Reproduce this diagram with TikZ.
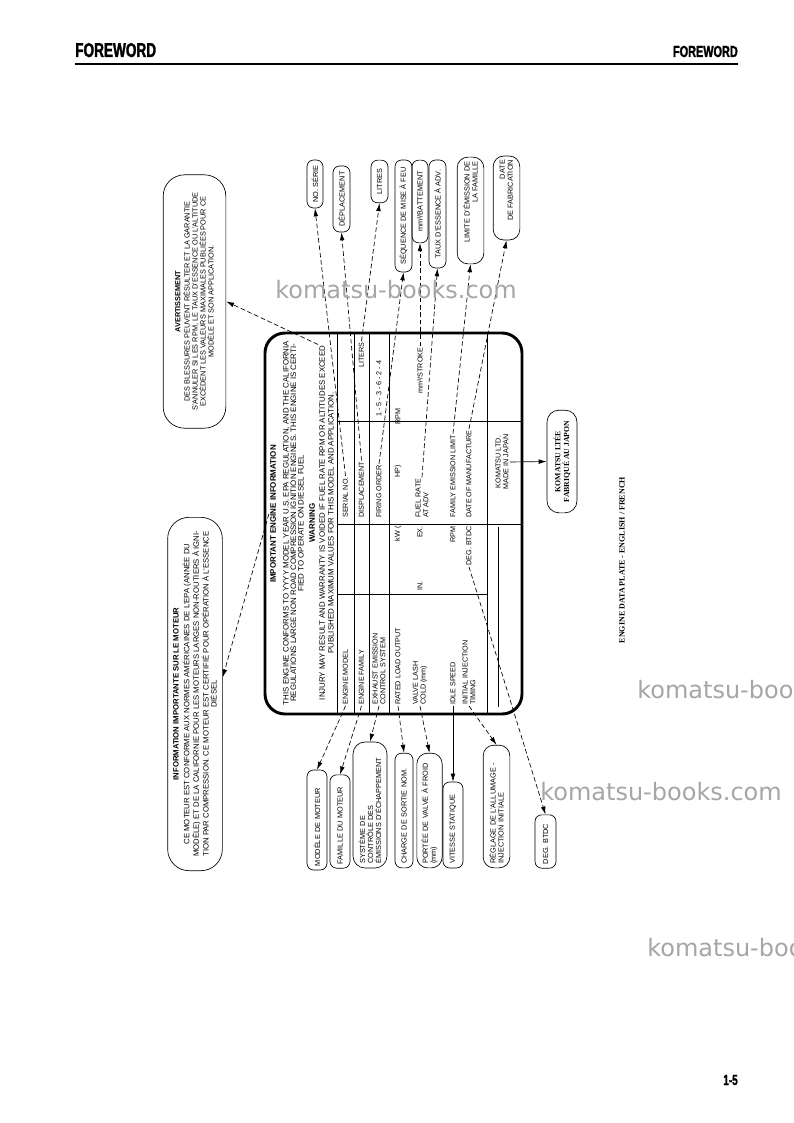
\documentclass[tikz,border=0pt]{standalone}
\usepackage{fontspec}
\setmainfont{Liberation Sans}
\newfontfamily\serifb{Liberation Serif}
\newfontfamily\narrowf[FakeStretch=0.68, FakeBold=1.5]{Liberation Sans Bold}
\newfontfamily\wmf{DejaVu Sans}
\usetikzlibrary{arrows.meta}

\tikzset{
  txt/.style={rotate=90, inner sep=0.8pt, font=\fontsize{5.4}{5.9}\selectfont, align=left},
  bub/.style={draw, rotate=90, line width=0.5pt, rounded corners=5pt, inner sep=1pt, font=\fontsize{5.5}{6}\selectfont, align=center},
  link/.style={line width=0.5pt, dash pattern=on 3.5pt off 2pt, -{Latex[length=6pt,width=3.5pt]}},
  slink/.style={line width=0.5pt, -{Latex[length=6pt,width=3.5pt]}},
  grid/.style={line width=0.5pt},
  wm/.style={text=black!35, font=\wmf\fontsize{18}{18}\selectfont, anchor=west, inner sep=0pt}
}

\begin{document}
\begin{tikzpicture}[x=0.75pt, y=-0.75pt]
\useasboundingbox (0,0) rectangle (793,1123);
\fill[white] (0,0) rectangle (793,1123);

% Encabezado
\node[anchor=base west, inner sep=0pt, font=\narrowf\fontsize{15}{15}\selectfont] (fwL) at (75,57) {FOREWORD};
\node[anchor=base east, inner sep=0pt, font=\narrowf\fontsize{12}{12}\selectfont] (fwR) at (738,57) {FOREWORD};
\draw[line width=2.2pt] (75,64) -- (738,64);
\node[anchor=base east, inner sep=0pt, font=\narrowf\fontsize{11}{11}\selectfont] (pg) at (738,1085) {1-5};

% Placa
\draw[line width=2.2pt, rounded corners=15pt] (265,333) rectangle (522,714);
\foreach \x in {337,354,369,389,487}
  \draw[grid] (\x,334) -- (\x,713);
\draw[grid] (337,594) -- (487,594);
\draw[grid] (337,524) -- (521,524);
\draw[grid] (337,421) -- (521,421);
\draw[grid] (498,527) -- (498,707);

% Texto de la placa
\node[txt, font=\bfseries\fontsize{6}{6}\selectfont] (hd) at (273,514) {IMPORTANT ENGINE INFORMATION};
\node[txt, align=center, font=\fontsize{5.9}{5.6}\selectfont] (tBody) at (293.5,523)
  {THIS ENGINE CONFORMS TO YYYY MODEL YEAR U.S. EPA REGULATION, AND THE CALIFORNIA\\
   REGULATIONS LARGE NON ROAD COMPRESSION IGNITION ENGINES. THIS ENGINE IS CERTI-\\
   FIED TO OPERATE ON DIESEL FUEL};
\node[txt, font=\bfseries\fontsize{6}{6}\selectfont] (tWarn) at (312,523) {WARNING};
\node[txt, align=center, font=\fontsize{5.9}{6.5}\selectfont] (tInj) at (326.5,523)
  {INJURY MAY RESULT AND WARRANTY IS VOIDED IF FUEL RATE RPM OR ALTITUDES EXCEED\\
   PUBLISHED MAXIMUM VALUES FOR THIS MODEL AND APPLICATION.};

% Tabla
\node[txt, anchor=west] (tModel) at (345.5,706) {ENGINE MODEL};
\node[txt, anchor=west] (tFamily) at (361.5,706) {ENGINE FAMILY};
\node[txt, anchor=west] (tExhaust) at (379,706) {EXHAUST EMISSION\\CONTROL SYSTEM};
\node[txt, anchor=west] (tRated) at (398,706) {RATED LOAD OUTPUT};
\node[txt, anchor=west] (tValve) at (420,706) {VALVE LASH\\COLD (mm)};
\node[txt, anchor=west] (tIdle) at (453,706) {IDLE SPEED};
\node[txt, anchor=west] (tInit) at (469,706) {INITIAL INJECTION\\TIMING};

\node[txt, anchor=east] (tKw) at (398,525) {kW (};
\node[txt, anchor=west] (tIn) at (420,592) {IN.};
\node[txt, anchor=east] (tEx) at (420,525) {EX.};
\node[txt, anchor=east] (tRpmB) at (453,525) {RPM};
\node[txt, anchor=east] (tDeg) at (469,525) {DEG. BTDC};

\node[txt, anchor=west] (tSerial) at (345.5,519) {SERIAL NO.};
\node[txt, anchor=west] (tDisp) at (361.5,519) {DISPLACEMENT};
\node[txt, anchor=west] (tFiring) at (379,519) {FIRING ORDER};
\node[txt, anchor=west] (tHp) at (398,479) {HP)};
\node[txt, anchor=west] (tFuel) at (422,519) {FUEL RATE\\AT ADV};
\node[txt, anchor=west] (tFel) at (453,519) {FAMILY EMISSION LIMIT};
\node[txt, anchor=west] (tDom) at (469,519) {DATE OF MANUFACTURE};
\node[txt, align=center] (tKom) at (502,462) {KOMATSU LTD.\\MADE IN JAPAN};

\node[txt, anchor=east] (tLiters) at (361.5,341) {LITERS};
\node[txt, anchor=west] (tOrder) at (379,418) {1 - 5 - 3 - 6 - 2 - 4};
\node[txt, anchor=west] (tRpmA) at (398,426) {RPM};
\node[txt, anchor=west] (tStroke) at (420,395) {mm³/STROKE};

% Bulles de arriba
\node[bub, minimum width=36pt, minimum height=12pt] (bSerie) at (315,184) {NO. SÉRIE};
\node[bub, minimum width=49.5pt, minimum height=12.75pt] (bDepl) at (341.5,199) {DÉPLACEMENT};
\node[bub, minimum width=32pt, minimum height=12.75pt] (bLitres) at (379.5,181.5) {LITRES};
\node[bub, minimum width=84pt, minimum height=12.75pt] (bSeq) at (403.5,216) {SÉQUENCE DE MISE À FEU};
\node[bub, minimum width=62pt, minimum height=12pt] (bBatt) at (420,201.5) {mm³/BATTEMENT};
\node[bub, minimum width=81pt, minimum height=12.75pt] (bTaux) at (437.5,214) {TAUX D'ESSENCE À ADV.};
\node[bub, minimum width=80pt, minimum height=20pt, text width=74pt, align=right, rounded corners=8pt] (bLimite) at (470.5,210.5) {LIMITE D'ÉMISSION DE\\LA FAMILLE};
\node[bub, minimum width=63pt, minimum height=20pt, text width=57pt, align=right, rounded corners=8pt] (bDate) at (506.5,198) {DATE\\DE FABRICATION};

% Bulles laterales
\node[bub, minimum width=190pt, minimum height=47pt, rounded corners=16pt] (bAvert) at (194.5,301.5)
  {\textbf{AVERTISSEMENT}\\[1pt]
   DES BLESSURES PEUVENT RÉSULTER ET LA GARANTIE\\
   S'ANNULER SI LES RPM, LE TAUX D'ESSENCE OU L'ALTITUDE\\
   EXCÈDENT LES VALEURS MAXIMALES PUBLIÉES POUR CE\\
   MODÈLE ET SON APPLICATION.};
\node[bub, minimum width=265pt, minimum height=41pt, rounded corners=16pt, font=\fontsize{5.8}{6}\selectfont] (bInfo) at (195,694)
  {\textbf{INFORMATION IMPORTANTE SUR LE MOTEUR}\\[2pt]
   CE MOTEUR EST CONFORME AUX NORMES AMÉRICAINES DE L'EPA (ANNÉE DU\\
   MODÈLE) ET DE LA CALIFORNIE POUR LES MOTEURS LARGES NON-ROUTIERS À IGNI-\\
   TION PAR COMPRESSION. CE MOTEUR EST CERTIFIÉ POUR OPÉRATION À L'ESSENCE\\
   DIÉSEL};

% Bulles de abajo
\node[bub, minimum width=75pt, minimum height=15pt, text width=69pt, align=left] (bModele) at (317,820) {MODÈLE DE MOTEUR};
\node[bub, minimum width=70pt, minimum height=15pt, text width=64pt, align=left] (bFamille) at (340,821.5) {FAMILLE DU MOTEUR};
\node[bub, minimum width=94.5pt, minimum height=25.5pt, text width=88pt, align=left, rounded corners=9pt] (bSysteme) at (370,805) {SYSTÈME DE\\CONTRÔLE DES\\ÉMISSIONS D'ÉCHAPPEMENT};
\node[bub, minimum width=86pt, minimum height=13.5pt, text width=80pt, align=left] (bCharge) at (404,810.5) {CHARGE DE SORTIE NOM.};
\node[bub, minimum width=86pt, minimum height=19pt, text width=80pt, align=left, rounded corners=8pt] (bPortee) at (429.5,810.5) {PORTÉE DE VALVE À FROID\\(mm)};
\node[bub, minimum width=64.5pt, minimum height=15pt, text width=58pt, align=left] (bVitesse) at (453,825) {VITESSE STATIQUE};
\node[bub, minimum width=92pt, minimum height=20pt, text width=86pt, align=left, rounded corners=8pt] (bReglage) at (496.5,806.5) {RÉGLAGE DE L'ALLUMAGE -\\INJECTION INITIALE};
\node[bub, minimum width=40pt, minimum height=15.75pt, text width=34pt, align=left] (bDeg) at (545.5,841.5) {DEG. BTDC};

% Komatsu
\node[bub, minimum width=77pt, minimum height=22.5pt, rounded corners=9pt, font=\serifb\bfseries\fontsize{5.8}{6.5}\selectfont] (bKom) at (562,461.5) {KOMATSU LTÉE\\FABRIQUÉ AU JAPON};
\node[rotate=90, font=\serifb\bfseries\fontsize{6}{6}\selectfont] (cap) at (622,560) {ENGINE DATA PLATE - ENGLISH / FRENCH};

% Flechas
\draw[link] (tSerial.east) -- (bSerie.west);
\draw[link] (tDisp.east) -- (bDepl.west);
\draw[link] (tLiters.east) -- (bLitres.west);
\draw[link] (tFiring.east) -- (bSeq.west);
\draw[link] (tStroke.east) -- (bBatt.west);
\draw[link] (tFuel.east) -- (bTaux.west);
\draw[link] (tFel.east) -- (bLimite.west);
\draw[link] (tDom.east) -- (bDate.west);
\draw[link] (tInj.north east) -- (bAvert.south);
\draw[link] (hd.north) -- (bInfo.-59);
\draw[link] (tModel.west) -- (bModele.east);
\draw[link] (tFamily.west) -- (bFamille.east);
\draw[link] (tExhaust.west) -- (bSysteme.east);
\draw[link] (tRated.west) -- (bCharge.east);
\draw[link] (tValve.west) -- (bPortee.east);
\draw[slink] (tIdle.west) -- (bVitesse.east);
\draw[link] (tInit.west) -- (bReglage.east);
\draw[link] (tDeg.west) -- (bDeg.east);
\draw[slink] (tKom.south) -- (bKom.north);

% Marcas de agua
\node[wm] (wm1) at (275,290) {komatsu-books.com};
\node[wm] (wm2) at (540,792) {komatsu-books.com};
\node[wm] (wm3) at (637,690) {komatsu-boo};
\node[wm] (wm4) at (647,948) {komatsu-boo};
\end{tikzpicture}
\end{document}
